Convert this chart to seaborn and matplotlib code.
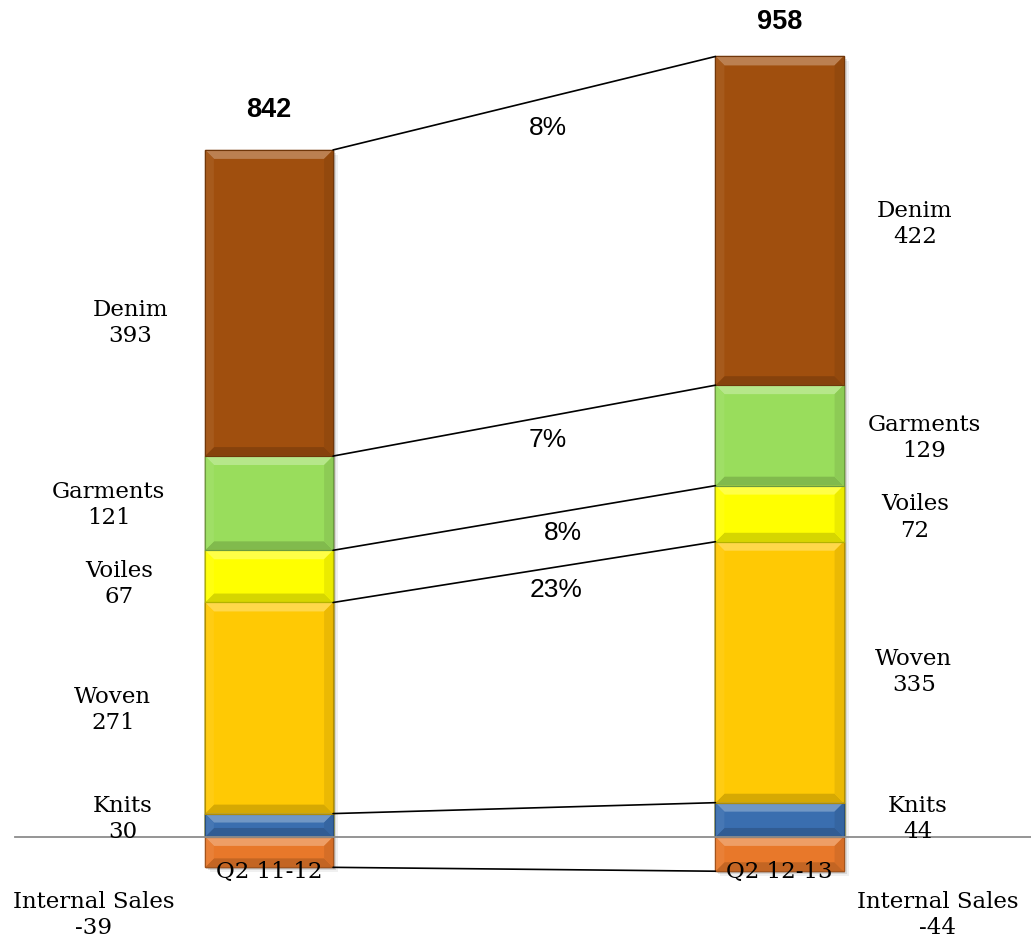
import numpy as np
import pandas as pd
import matplotlib
matplotlib.use("Agg")
import matplotlib.pyplot as plt
import seaborn as sns
from matplotlib.colors import to_rgb

# ---- data -------------------------------------------------------------
quarters = ["Q2 11-12", "Q2 12-13"]
segments = ["Knits", "Woven", "Voiles", "Garments", "Denim"]   # bottom -> top
knits = [30, 44]
woven = [271, 335]
voiles = [67, 72]
garments = [121, 129]
denim = [393, 422]
internal_sales = [-39, -44]
totals = [842, 958]
growth = ["8%", "7%", "8%", "23%"]   # Denim, Garments, Voiles, Woven

# ---- style ------------------------------------------------------------
colors = {
    "Denim": "#A04F0E",
    "Garments": "#99DD5C",
    "Voiles": "#FFFF00",
    "Woven": "#FFC904",
    "Knits": "#3A6EAF",
    "Internal Sales": "#E8782A",
}
BAR_W = 0.251
serif = "DejaVu Serif"
sans = "Liberation Sans"

# label anchors (x, y) in data units for each bar's segment captions
left_pos = {"Denim": (-0.272, 660), "Garments": (-0.314, 426), "Voiles": (-0.294, 325),
            "Woven": (-0.306, 163), "Knits": (-0.287, 23), "Internal Sales": (-0.343, -100)}
right_pos = {"Denim": (1.265, 787), "Garments": (1.283, 512), "Voiles": (1.265, 410),
             "Woven": (1.263, 212), "Knits": (1.271, 23), "Internal Sales": (1.310, -100)}
growth_pos = [(0.547, 910), (0.547, 510), (0.576, 390), (0.562, 317)]
total_pos = [(0, 933), (1, 1046)]
category_y = -45

sns.set_style("white")
plt.rcParams["text.color"] = "black"

fig = plt.figure(figsize=(10.31, 9.46), dpi=100)
ax = fig.add_axes([15 / 1031, 0, 1016 / 1031, 1])

values = {"Knits": knits, "Woven": woven, "Voiles": voiles,
          "Garments": garments, "Denim": denim}
stack = np.vstack([values[s] for s in segments])
tops = np.cumsum(stack, axis=0)

# soft drop shadow behind each column
for i in range(len(quarters)):
    for k, a in [(5, 0.06), (3, 0.10), (1.5, 0.14)]:
        ax.add_patch(plt.Rectangle((i - BAR_W / 2 + k / 510.5, internal_sales[i] - k / 0.779),
                                   BAR_W, tops[-1, i] - internal_sales[i],
                                   facecolor="black", alpha=a, lw=0, zorder=0.5))

# stacked columns: paint cumulative heights from the top layer down
for j in range(len(segments) - 1, -1, -1):
    df = pd.DataFrame({"quarter": quarters, "value": tops[j]})
    sns.barplot(data=df, x="quarter", y="value", order=quarters, color=colors[segments[j]],
                saturation=1, width=BAR_W, errorbar=None, ax=ax,
                edgecolor=tuple(c * 0.75 for c in to_rgb(colors[segments[j]])), linewidth=1)
df = pd.DataFrame({"quarter": quarters, "value": internal_sales})
sns.barplot(data=df, x="quarter", y="value", order=quarters, color=colors["Internal Sales"],
            saturation=1, width=BAR_W, errorbar=None, ax=ax,
            edgecolor=tuple(c * 0.75 for c in to_rgb(colors["Internal Sales"])), linewidth=1)


def mix(c, other, t):
    c = np.array(to_rgb(c)); o = np.array(to_rgb(other))
    return tuple(c * (1 - t) + o * t)


def bevel(x0, x1, y0, y1, col):
    by = min(11.5, (y1 - y0) / 2.2)
    bx = by * 0.779 / 510.5
    top = [(x0, y1), (x1, y1), (x1 - bx, y1 - by), (x0 + bx, y1 - by)]
    bot = [(x0, y0), (x1, y0), (x1 - bx, y0 + by), (x0 + bx, y0 + by)]
    left = [(x0, y0), (x0, y1), (x0 + bx, y1 - by), (x0 + bx, y0 + by)]
    right = [(x1, y0), (x1, y1), (x1 - bx, y1 - by), (x1 - bx, y0 + by)]
    for poly, fc in [(top, mix(col, "white", 0.28)), (bot, mix(col, "black", 0.16)),
                     (left, mix(col, "white", 0.06)), (right, mix(col, "black", 0.08))]:
        xs, ys = zip(*poly)
        ax.fill(xs, ys, color=fc, lw=0, zorder=3)
    ax.plot([x0, x1, x1, x0, x0], [y0, y0, y1, y1, y0],
            color=mix(col, "black", 0.3), lw=0.8, zorder=3.1)


for i in range(len(quarters)):
    x0, x1 = i - BAR_W / 2, i + BAR_W / 2
    bottom = 0
    for j, s in enumerate(segments):
        bevel(x0, x1, bottom, tops[j, i], colors[s])
        bottom = tops[j, i]
    bevel(x0, x1, internal_sales[i], 0, colors["Internal Sales"])

# connector lines between matching layer boundaries
bounds = [tops[-1], tops[3], tops[2], tops[1], tops[0], np.array(internal_sales)]
for b in bounds:
    ax.plot([BAR_W / 2, 1 - BAR_W / 2], [b[0], b[1]], color="black", lw=1.2, zorder=4)

# segment captions
for pos_map, idx in [(left_pos, 0), (right_pos, 1)]:
    for s in segments + ["Internal Sales"]:
        v = internal_sales[idx] if s == "Internal Sales" else values[s][idx]
        x, y = pos_map[s]
        ax.text(x, y, f"{s}\n{v}", ha="center", va="center", fontsize=16.5,
                family=serif, linespacing=1.25, color="black", zorder=5)

for (x, y), t in zip(growth_pos, growth):
    ax.text(x, y, t, ha="center", va="center", fontsize=19, family=sans,
            color="black", zorder=5)

for (x, y), t in zip(total_pos, totals):
    ax.text(x, y, str(t), ha="center", va="center", fontsize=19.5, family=sans,
            fontweight="bold", color="black", zorder=5)

# axis: only a gray baseline at zero, category names sit on the negative segment
ax.set_xlim(-0.4976, 1.4927)
ax.set_ylim(-140, 1074.5)
for sp in ["top", "right", "left"]:
    ax.spines[sp].set_visible(False)
ax.spines["bottom"].set_position(("data", 0))
ax.spines["bottom"].set_color("#8c8c8c")
ax.spines["bottom"].set_linewidth(1.3)
ax.spines["bottom"].set_zorder(4.5)
ax.set_yticks([])
ax.set_xticks([])
for i, q in enumerate(quarters):
    ax.text(i, category_y, q, ha="center", va="center", fontsize=16.5,
            family=serif, color="black", zorder=6)
ax.set_xlabel("")
ax.set_ylabel("")

fig.savefig("out.png", dpi=100)
